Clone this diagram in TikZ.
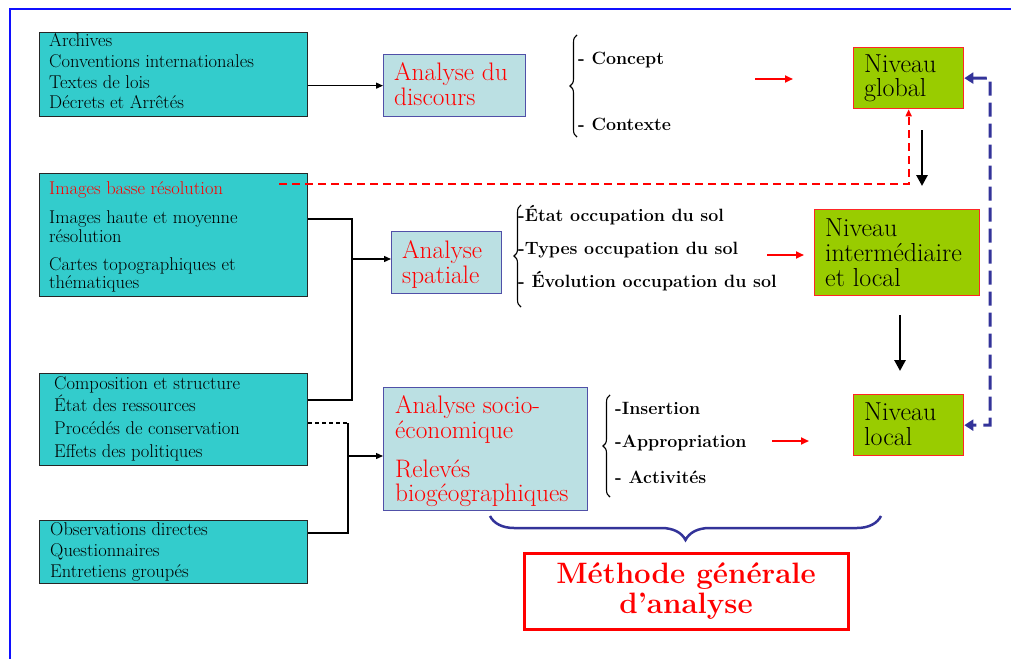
\documentclass[tikz,border=0pt]{standalone}
\usepackage{fontspec}
\usetikzlibrary{arrows.meta,decorations.pathreplacing,calc}
\definecolor{tealfill}{HTML}{33CCCC}
\definecolor{lblue}{HTML}{BBE0E3}
\definecolor{lbord}{HTML}{5050A8}
\definecolor{nivgreen}{HTML}{99CC00}
\definecolor{navy}{HTML}{333399}
\definecolor{frameblue}{HTML}{1010FF}
\begin{document}
\begin{tikzpicture}[x=1pt,y=-1pt,
  srcbox/.style={draw=black!85, fill=tealfill, line width=1.2pt, inner sep=0, anchor=north west},
  anabox/.style={draw=lbord, fill=lblue, line width=1.3pt, inner sep=0, anchor=north west},
  nivbox/.style={draw=red!85, fill=nivgreen, line width=1.3pt, inner sep=0, anchor=north west},
  methbox/.style={draw=red, line width=3pt, fill=white, inner sep=0, align=center, text=red,
     font=\fontsize{29.5}{30}\selectfont\bfseries},
  ln/.style={anchor=base west, inner sep=0},
  small/.style={ln, font=\fontsize{18.5}{20}\selectfont},
  big/.style={ln, font=\fontsize{25.3}{26}\selectfont, text=red},
  bold/.style={ln, font=\fontsize{17.8}{20}\selectfont\bfseries},
  niv/.style={ln, font=\fontsize{26}{25}\selectfont},
  conn/.style={line width=1.3pt},
  arr/.style={conn, -{Triangle[length=7pt,width=6pt]}},
  redarr/.style={red, line width=2.2pt, -{Triangle[length=8pt,width=7pt]}},
  blkarr/.style={line width=2.8pt, -{Triangle[length=11pt,width=11pt]}},
  reddash/.style={red, line width=2pt, dash pattern=on 8pt off 5pt, -{Triangle[length=7pt,width=6pt]}},
  bluedash/.style={navy, line width=3pt, dash pattern=on 14pt off 7pt,
     {Triangle[length=9pt,width=11pt]}-{Triangle[length=9pt,width=11pt]}},
  lbrace/.style={decorate, decoration={brace, amplitude=7pt}, line width=1.1pt},
]
\useasboundingbox (0,0) rectangle (1011,658);
% frame
\draw[frameblue, line width=2.5pt] (10,660) -- (10,9) -- (1013,9);

% source boxes
\node[srcbox, minimum width=268, minimum height=84] (src1) at (39,32) {};
\node[srcbox, minimum width=268, minimum height=123] (src2) at (39,173) {};
\node[srcbox, minimum width=268, minimum height=92] (src3) at (39,373) {};
\node[srcbox, minimum width=268, minimum height=63] (src4) at (39,520) {};

\node[small] (t1a) at (49,47) {Archives};
\node[small] (t1b) at (49,68) {Conventions internationales};
\node[small] (t1c) at (49,89) {Textes de lois};
\node[small] (t1d) at (49,109) {Décrets et Arrêtés};

\node[small, text=red] (t2a) at (49,194) {Images basse résolution};
\node[small] (t2b) at (49,223) {Images haute et moyenne};
\node[small] (t2c) at (49,242) {résolution};
\node[small] (t2d) at (49,270) {Cartes topographiques et};
\node[small] (t2e) at (49,288) {thématiques};

\node[small] (t3a) at (54,389) {Composition et structure};
\node[small] (t3b) at (54,411) {État des ressources};
\node[small] (t3c) at (54,434) {Procédés de conservation};
\node[small] (t3d) at (54,457) {Effets des politiques};

\node[small] (t4a) at (50,535) {Observations directes};
\node[small] (t4b) at (50,556) {Questionnaires};
\node[small] (t4c) at (50,577) {Entretiens groupés};

% analysis boxes
\node[anabox, minimum width=142, minimum height=62] (disc) at (383,54) {};
\node[big] (d1) at (394,81) {Analyse du};
\node[big] (d2) at (394,106) {discours};

\node[anabox, minimum width=110, minimum height=62] (spat) at (391,231) {};
\node[big] (s1) at (402,258) {Analyse};
\node[big] (s2) at (402,283) {spatiale};

\node[anabox, minimum width=204, minimum height=123] (socio) at (383,387) {};
\node[big] (e1) at (395,413) {Analyse socio-};
\node[big] (e2) at (395,438) {économique};
\node[big] (e3) at (395,477) {Relevés};
\node[big] (e4) at (395,501) {biogéographiques};

% braces and lists
\coordinate (b1s) at (577,137); \coordinate (b1e) at (577,35);
\draw[lbrace] (b1s) -- (b1e);
\node[bold] (c1) at (578,65) {- Concept};
\node[bold] (c2) at (578,130) {- Contexte};

\coordinate (b2s) at (521,307); \coordinate (b2e) at (521,205);
\draw[lbrace] (b2s) -- (b2e);
\node[bold] (o1) at (518,221) {-État occupation du sol};
\node[bold] (o2) at (518,254) {-Types occupation du sol};
\node[bold] (o3) at (518,287) {- Évolution occupation du sol};

\coordinate (b3s) at (610,497); \coordinate (b3e) at (610,395);
\draw[lbrace] (b3s) -- (b3e);
\node[bold] (i1) at (615,414) {-Insertion};
\node[bold] (i2) at (615,447) {-Appropriation};
\node[bold] (i3) at (615,483) {- Activités};

% niveau boxes
\node[nivbox, minimum width=110, minimum height=61] (glob) at (853,47) {};
\node[niv] (g1) at (864,73) {Niveau};
\node[niv] (g2) at (864,97) {global};

\node[nivbox, minimum width=165, minimum height=86] (inter) at (814,209) {};
\node[niv] (m1) at (825,236) {Niveau};
\node[niv] (m2) at (825,261) {intermédiaire};
\node[niv] (m3) at (825,286) {et local};

\node[nivbox, minimum width=110, minimum height=61] (loc) at (853,394) {};
\node[niv] (l1) at (864,420) {Niveau};
\node[niv] (l2) at (864,445) {local};

% methode
\node[methbox, minimum width=324, minimum height=76] (meth) at (686,591) {Méthode générale\\d’analyse};

% connectors left
\draw[arr] (src1.east |- disc.west) -- (disc.west);
\coordinate (j5) at (352,219);
\coordinate (j6) at (352,400);
\coordinate (j7) at (352,259);
\draw[conn] (src2.east |- j5) -- (j5) -- (j6) -- (src3.east |- j6);
\draw[arr] (j7) -- (j7 -| spat.west);
\coordinate (j3) at (348,423);
\coordinate (j4) at (348,533);
\coordinate (j8) at (348,456);
\draw[conn, dash pattern=on 4pt off 3pt] (src3.east |- j3) -- (j3);
\draw[conn] (j3) -- (j4) -- (src4.east |- j4);
\draw[arr] (j8) -- (j8 -| socio.west);

% red arrows
\coordinate (r1a) at (755,79); \coordinate (r1b) at (793,79);
\draw[redarr] (r1a) -- (r1b);
\coordinate (r2a) at (767,255); \coordinate (r2b) at (804,255);
\draw[redarr] (r2a) -- (r2b);
\coordinate (r3a) at (772,441); \coordinate (r3b) at (809,441);
\draw[redarr] (r3a) -- (r3b);

% black down arrows
\coordinate (k1) at (922,130); \coordinate (k2) at (922,186);
\draw[blkarr] (k1) -- (k2);
\coordinate (k3) at (900,315); \coordinate (k4) at (900,371);
\draw[blkarr] (k3) -- (k4);

% red dashed
\coordinate (rd) at (279,184);
\draw[reddash] (rd) -| (glob.south);

% blue dashed
\coordinate (bd) at (990,78);
\draw[bluedash] (glob.east) -- (bd) |- (loc.east);

% big brace
\coordinate (bb1) at (490,516); \coordinate (bb2) at (881,516);
\draw[navy, line width=2.5pt, decorate, decoration={brace, mirror, amplitude=24pt}] (bb1) -- (bb2);
\end{tikzpicture}
\end{document}
